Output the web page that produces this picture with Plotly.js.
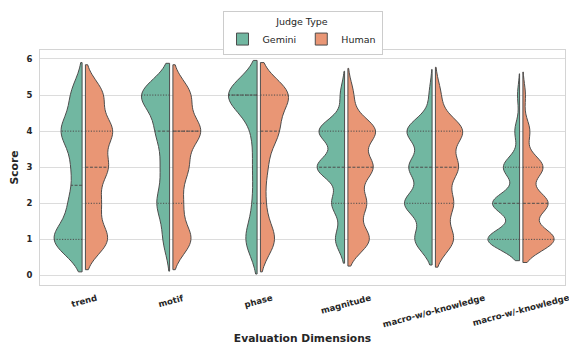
<!DOCTYPE html>
<html>
<head>
<meta charset="utf-8">
<script src="https://cdn.plot.ly/plotly-3.0.1.min.js"></script>
<style>html,body{margin:0;padding:0;background:#fff;}#chart{width:569px;height:345px;}</style>
</head>
<body>
<div id="chart"></div>
<script>
// ---- data ----
const categories = ['trend', 'motif', 'phase', 'magnitude', 'macro-w/o-knowledge', 'macro-w/-knowledge'];
const scoreLevels = [1, 2, 3, 4, 5];
// number of ratings at each score level (1..5) per dimension
const geminiCounts = [
  [61, 26, 20, 44, 23],
  [13, 26, 17, 27, 60],
  [26, 9, 9, 10, 68],
  [15, 21, 45, 42, 7],
  [30, 48, 40, 44, 5],
  [47, 40, 24, 7, 3]
];
const humanCounts = [
  [45, 29, 44, 53, 35],
  [37, 19, 30, 55, 35],
  [31, 10, 14, 37, 60],
  [39, 33, 45, 50, 10],
  [34, 33, 42, 51, 10],
  [50, 40, 32, 11, 4]
];
// KDE bandwidths per violin
const geminiBandwidth = [0.45, 0.44, 0.48, 0.33, 0.355, 0.295];
const humanBandwidth = [0.42, 0.42, 0.45, 0.37, 0.385, 0.32];
const judges = ['Gemini', 'Human'];

// ---- styling ----
const GEMINI_COLOR = '#71b7a1';
const HUMAN_COLOR = '#e99675';
const EDGE = '#4d4d4d';
const TEXT = '#262626';
const FONT = 'DejaVu Sans';
const MAX_HALF = 0.363;   // half-width (category units) of the widest violin (count-scaled)
const SPLIT_GAP = 0.019;  // half gap between the two halves

function expand(counts) {
  const out = [];
  counts.forEach((c, k) => { for (let j = 0; j < c; j++) out.push(scoreLevels[k]); });
  return out;
}
function makeKDE(vals, bw) {
  const f = 1 / (vals.length * bw);
  return x => {
    let s = 0;
    for (const v of vals) { const u = (x - v) / bw; s += Math.exp(-0.5 * u * u) / Math.sqrt(2 * Math.PI); }
    return f * s;
  };
}
function spanOf(vals, bw) {
  return [Math.min(...vals) - 2 * bw, Math.max(...vals) + 2 * bw];
}
function gridMax(vals, bw, kde) {
  const [lo, hi] = spanOf(vals, bw);
  const dist = hi - lo, n = Math.ceil(dist / (bw / 3)), step = dist / n;
  let m = 0;
  for (let t = lo; t < hi + step / 2; t += step) m = Math.max(m, kde(t));
  return m;
}
function quantile(sorted, q) {
  const pos = q * (sorted.length - 1), lo = Math.floor(pos), fr = pos - lo;
  return lo + 1 < sorted.length ? sorted[lo] + fr * (sorted[lo + 1] - sorted[lo]) : sorted[lo];
}

const violins = [];
categories.forEach((cat, i) => {
  [[geminiCounts, geminiBandwidth, 0], [humanCounts, humanBandwidth, 1]].forEach(([cnt, bws, j]) => {
    const vals = expand(cnt[i]);
    const bw = bws[i];
    const kde = makeKDE(vals, bw);
    const maxK = gridMax(vals, bw, kde);
    violins.push({i, j, cat, vals, bw, kde, maxK, weight: vals.length * maxK});
  });
});
const maxWeight = Math.max(...violins.map(v => v.weight));

const traces = [];
const shapes = [];
// Gemini first then Human (legend order)
[0, 1].forEach(j => {
  violins.filter(v => v.j === j).forEach(v => {
    const bdPos = MAX_HALF * v.weight / maxWeight;
    const xref = j === 0 ? 'x' : 'x2';
    traces.push({
      type: 'violin',
      x: v.vals.map(() => v.cat),
      y: v.vals,
      xaxis: xref,
      yaxis: 'y',
      name: judges[j],
      legendgroup: judges[j],
      showlegend: v.i === 0,
      side: j === 0 ? 'negative' : 'positive',
      bandwidth: v.bw,
      spanmode: 'soft',
      scalemode: 'width',
      scalegroup: judges[j] + v.i,
      width: 2 * bdPos,
      fillcolor: j === 0 ? GEMINI_COLOR : HUMAN_COLOR,
      line: {color: EDGE, width: 1},
      points: false,
      box: {visible: false},
      meanline: {visible: false},
      hoverinfo: 'skip'
    });
    // inner edge of the split half
    const [lo, hi] = spanOf(v.vals, v.bw);
    shapes.push({
      type: 'line', xref: xref, yref: 'y', x0: v.i, x1: v.i, y0: lo, y1: hi,
      line: {color: EDGE, width: 1}
    });
    // quartile lines
    const sorted = v.vals.slice().sort((a, b) => a - b);
    [0.25, 0.5, 0.75].forEach(q => {
      const y = quantile(sorted, q);
      const w = bdPos * v.kde(y) / v.maxK;
      shapes.push({
        type: 'line', xref: xref, yref: 'y',
        x0: v.i, x1: j === 0 ? v.i - w : v.i + w, y0: y, y1: y,
        line: {color: EDGE, width: 1, dash: q === 0.5 ? '3px,1.5px' : '1.2px,1.5px'}
      });
    });
  });
});

const annotations = categories.map(c => ({
  text: c, xref: 'x', yref: 'paper', x: c, y: 0, xanchor: 'center', yanchor: 'top',
  yshift: -5, xshift: 1.6, textangle: -15, showarrow: false,
  font: {family: FONT, size: 8.5, color: TEXT, weight: 'bold'}
}));

const layout = {
  width: 569, height: 345,
  margin: {l: 40, r: 4, t: 50, b: 60},
  paper_bgcolor: '#ffffff', plot_bgcolor: '#ffffff',
  font: {family: FONT, color: TEXT},
  violinmode: 'overlay',
  showlegend: true,
  xaxis: {
    type: 'category', categoryorder: 'array', categoryarray: categories,
    range: [-0.5 + SPLIT_GAP, 5.5 + SPLIT_GAP], autorange: false,
    showgrid: false, zeroline: false, showticklabels: false, ticks: '',
    showline: true, mirror: true, linecolor: '#d4d4d4', linewidth: 1,
    title: {text: 'Evaluation Dimensions', standoff: 49, font: {family: FONT, size: 10.7, color: TEXT, weight: 'bold'}}
  },
  xaxis2: {
    type: 'category', categoryorder: 'array', categoryarray: categories,
    overlaying: 'x', anchor: 'y',
    range: [-0.5 - SPLIT_GAP, 5.5 - SPLIT_GAP], autorange: false,
    showgrid: false, zeroline: false, showticklabels: false, ticks: '', showline: false
  },
  yaxis: {
    range: [-0.264, 6.249], autorange: false,
    tickvals: [0, 1, 2, 3, 4, 5, 6],
    showgrid: true, gridcolor: '#dcdcdc', gridwidth: 1, zeroline: false,
    showline: true, mirror: true, linecolor: '#d4d4d4', linewidth: 1,
    ticks: '', ticklabelstandoff: 5,
    tickfont: {family: FONT, size: 8.5, color: TEXT, weight: 'bold'},
    title: {text: 'Score', standoff: 5, font: {family: FONT, size: 10.7, color: TEXT, weight: 'bold'}}
  },
  legend: {
    orientation: 'h', x: 0.5, xanchor: 'center', y: 1.165, yanchor: 'top',
    bgcolor: '#ffffff', bordercolor: '#cccccc', borderwidth: 1,
    font: {family: FONT, size: 9.5, color: TEXT},
    title: {text: 'Judge Type', side: 'top center', font: {family: FONT, size: 9.5, color: TEXT}}
  },
  shapes: shapes,
  annotations: annotations
};

Plotly.newPlot('chart', traces, layout, {displayModeBar: false, staticPlot: true});
</script>
</body>
</html>
